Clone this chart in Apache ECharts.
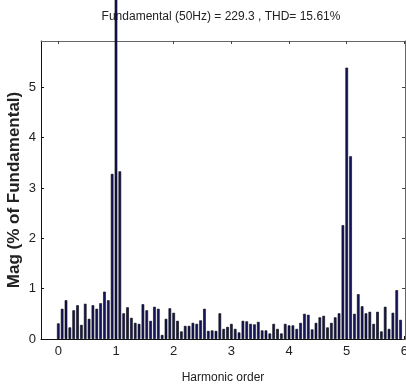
<!DOCTYPE html>
<html>
<head>
<meta charset="utf-8">
<script src="https://cdn.jsdelivr.net/npm/echarts@6/dist/echarts.min.js"></script>
<style>
html,body{margin:0;padding:0;background:#fff;}
#chart{width:406px;height:390px;}
</style>
</head>
<body>
<div id="chart"></div>
<script>
// Harmonic spectrum: one bin every 1/15 of the fundamental (3.33 Hz resolution)
const binsPerHarmonic = 15;
const magnitudes = [
  0.31, 0.60, 0.77, 0.23, 0.57, 0.67, 0.28, 0.70, 0.40, 0.67,
  0.60, 0.71, 0.94, 0.77, 3.28, 100, 3.33, 0.51, 0.63, 0.42,
  0.32, 0.30, 0.69, 0.57, 0.36, 0.64, 0.60, 0.08, 0.40, 0.61,
  0.52, 0.36, 0.15, 0.26, 0.26, 0.32, 0.30, 0.37, 0.60, 0.16,
  0.17, 0.16, 0.51, 0.20, 0.24, 0.30, 0.20, 0.13, 0.36, 0.35,
  0.30, 0.29, 0.34, 0.17, 0.17, 0.11, 0.30, 0.20, 0.11, 0.30,
  0.27, 0.27, 0.20, 0.32, 0.50, 0.48, 0.19, 0.32, 0.43, 0.46,
  0.23, 0.32, 0.43, 0.51, 2.26, 5.39, 3.63, 0.50, 0.89, 0.65,
  0.51, 0.54, 0.30, 0.54, 0.15, 0.64, 0.20, 0.52, 0.97, 0.38
];
const xTicks = [0, 1, 2, 3, 4, 5, 6];
const yTicks = [0, 1, 2, 3, 4, 5];
const titleText = 'Fundamental (50Hz) = 229.3 , THD= 15.61%';
const xName = 'Harmonic order';
const yName = 'Mag (% of Fundamental)';

const seriesData = magnitudes.map((v, i) => [i / binsPerHarmonic, v]);

const FONT = '"Liberation Sans", Arial, sans-serif';
const chart = echarts.init(document.getElementById('chart'), null, {renderer: 'canvas'});
const xMin = -0.3, xMax = 6.01, yMin = 0, yMax = 5.92;

chart.setOption({
  animation: false,
  backgroundColor: '#ffffff',
  title: {
    text: titleText,
    left: 216, top: 6, textAlign: 'center',
    textStyle: {fontFamily: FONT, fontSize: 12, fontWeight: 'normal', color: '#222'},
    z: 1
  },
  grid: {left: 41, right: 1, top: 41, bottom: 51, containLabel: false, outerBoundsMode: 'none'},
  xAxis: [{
    type: 'value', min: xMin, max: xMax, position: 'bottom',
    name: xName, nameLocation: 'middle', nameGap: 33, nameMoveOverlap: false,
    nameTextStyle: {fontFamily: FONT, fontSize: 12, color: '#222'},
    axisLine: {show: true, onZero: false, lineStyle: {color: '#111', width: 1}},
    axisTick: {show: true, inside: true, length: 3, customValues: xTicks, lineStyle: {color: '#111'}},
    axisLabel: {show: true, customValues: xTicks, margin: 6, fontFamily: FONT, fontSize: 13, color: '#222'},
    splitLine: {show: false}
  }, {
    type: 'value', min: xMin, max: xMax, position: 'top',
    axisLine: {show: true, onZero: false, lineStyle: {color: '#666', width: 1}},
    axisTick: {show: true, inside: true, length: 3, customValues: xTicks, lineStyle: {color: '#444'}},
    axisLabel: {show: false},
    splitLine: {show: false}
  }],
  yAxis: [{
    type: 'value', min: yMin, max: yMax, position: 'left',
    name: yName, nameLocation: 'middle', nameGap: 18, nameMoveOverlap: false,
    nameTextStyle: {fontFamily: FONT, fontSize: 17, fontWeight: 'bold', color: '#222'},
    axisLine: {show: true, onZero: false, lineStyle: {color: '#111', width: 1}},
    axisTick: {show: true, inside: true, length: 3, customValues: yTicks, lineStyle: {color: '#111'}},
    axisLabel: {show: true, customValues: yTicks, margin: 5, fontFamily: FONT, fontSize: 13, color: '#222'},
    splitLine: {show: false}
  }, {
    type: 'value', min: yMin, max: yMax, position: 'right',
    axisLine: {show: true, onZero: false, lineStyle: {color: '#666', width: 1}},
    axisTick: {show: true, inside: true, length: 3, customValues: yTicks, lineStyle: {color: '#444'}},
    axisLabel: {show: false},
    splitLine: {show: false}
  }],
  series: [{
    type: 'bar',
    data: seriesData,
    xAxisIndex: 0, yAxisIndex: 0,
    barWidth: 2.6,
    clip: false,
    z: 10,
    itemStyle: {color: '#161660', borderColor: '#000', borderWidth: 0.6}
  }]
});
</script>
</body>
</html>
